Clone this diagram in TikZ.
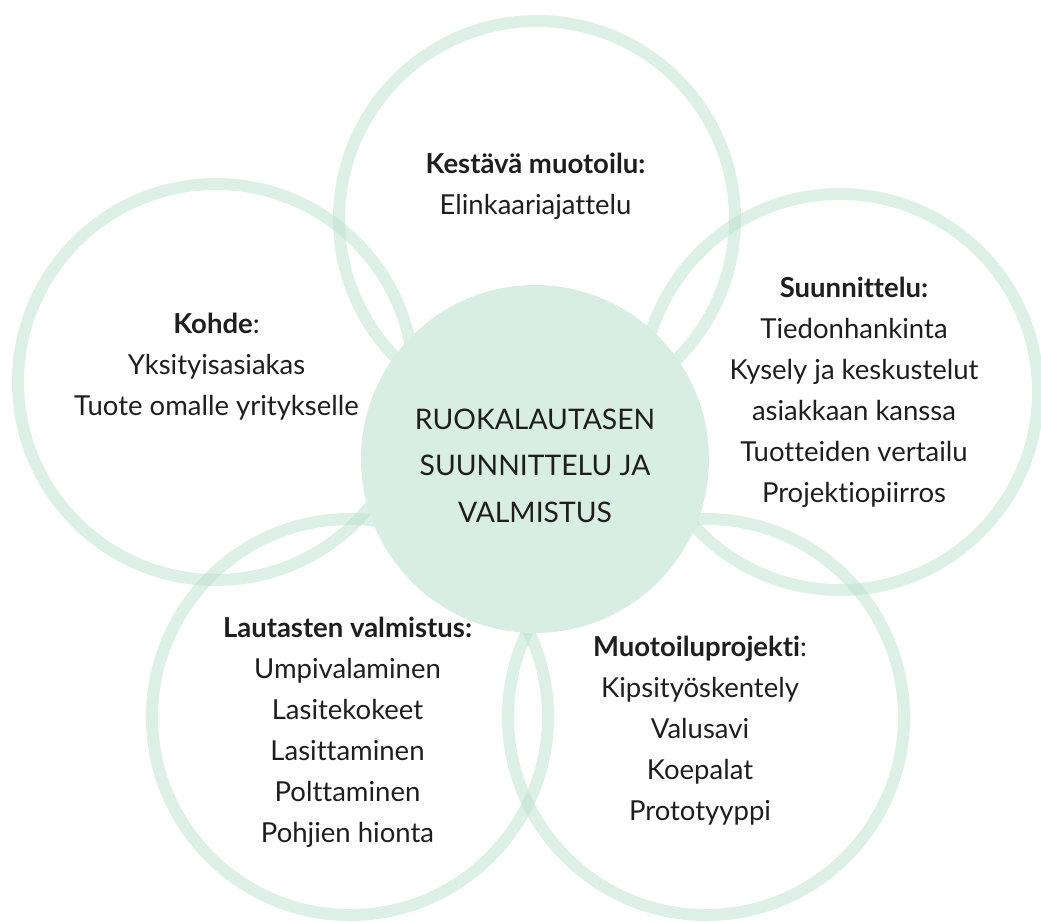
\documentclass[tikz,border=0pt]{standalone}
\usepackage{fontspec}
\setmainfont{Lato}[Ligatures=NoCommon]
\usepackage{xcolor}
\usepackage{tikz}
\usetikzlibrary{positioning}
\definecolor{mint}{RGB}{180,222,202}
\definecolor{mintfill}{RGB}{216,238,228}
\definecolor{ink}{RGB}{30,30,30}

\begin{document}
\begin{tikzpicture}[
    x=1pt, y=-1pt,
    ring/.style={draw=mint,draw opacity=0.45,line width=12pt,circle,minimum size=396pt,inner sep=0pt},
    hub/.style={fill=mintfill,circle,minimum size=348pt,inner sep=0pt},
    topic/.style={align=center,text=ink,anchor=base,inner sep=0pt,font=\fontsize{27.5}{41}\selectfont},
    hubtext/.style={topic,font=\fontsize{28.3}{46.5}\selectfont},
  ]
    \clip (0,0) rectangle (1041,921);

    \node[ring] (kestava) at (537,219) {};
    \node[ring] (kohde) at (216,382) {};
    \node[ring] (suunn) at (840,392) {};
    \node[ring] (lautaset) at (350,717) {};
    \node[ring] (projekti) at (706,717) {};
    \node[hub] (hub) at (535,459) {};

    \node[hubtext] (hubt) at (535,522) {RUOKALAUTASEN\\SUUNNITTELU JA\\VALMISTUS};

    \node[topic] (kestavat) at (535.5,214.5) {\textbf{Kestävä muotoilu:}\\Elinkaariajattelu};
    \node[topic] (kohdet) at (216.5,415.5) {\textbf{Kohde}:\\Yksityisasiakas\\Tuote omalle yritykselle};
    \node[topic] (suunnt) at (854,502) {\textbf{Suunnittelu:}\\Tiedonhankinta\\Kysely ja keskustelut\\asiakkaan kanssa\\Tuotteiden vertailu\\Projektiopiirros};
    \node[topic] (lautasett) at (347.5,842) {\textbf{Lautasten valmistus:}\\Umpivalaminen\\Lasitekokeet\\Lasittaminen\\Polttaminen\\Pohjien hionta};
    \node[topic] (projektit) at (700,820) {\textbf{Muotoiluprojekti}:\\Kipsityöskentely\\Valusavi\\Koepalat\\Prototyyppi};
  \end{tikzpicture}
\end{document}
